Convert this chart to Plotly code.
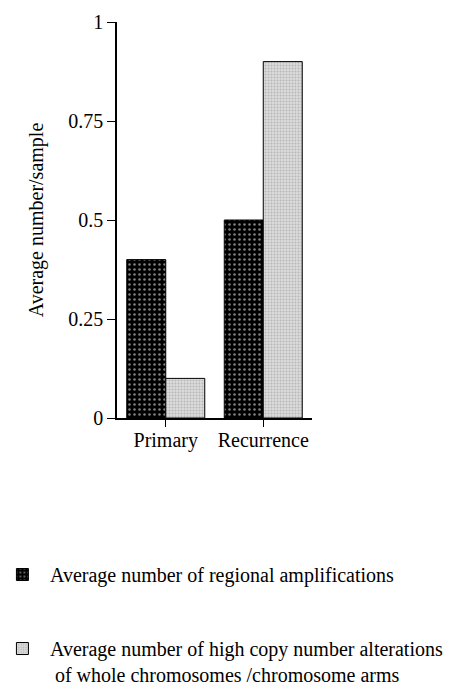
import plotly.graph_objects as go

categories = ["Primary", "Recurrence"]
regional_amp = [0.40, 0.50]
whole_chrom = [0.10, 0.90]
series_names = [
    "Average number of regional amplifications",
    "Average number of high copy number alterations<br> of whole chromosomes /chromosome arms",
]
y_ticks = [0, 0.25, 0.5, 0.75, 1]
y_tick_labels = ["0", "0.25", "0.5", "0.75", "1"]

FONT = "Liberation Serif"
FS = 20

fig = go.Figure()
fig.add_trace(go.Bar(
    x=categories, y=regional_amp, name=series_names[0], legendgroup="a",
    marker=dict(color="black", line=dict(color="black", width=1),
                pattern=dict(shape=".", bgcolor="black", fgcolor="white",
                             size=5, solidity=0.2, fillmode="overlay")),
))
fig.add_trace(go.Bar(
    x=categories, y=whole_chrom, name=series_names[1], legendgroup="b",
    marker=dict(color="#cccccc", line=dict(color="black", width=1),
                pattern=dict(shape=".", bgcolor="#dcdcdc", fgcolor="#909090",
                             size=3, solidity=0.35, fillmode="overlay")),
))

fig.update_layout(
    width=453, height=686,
    margin=dict(l=109, r=149, t=14, b=276, autoexpand=False),
    paper_bgcolor="white", plot_bgcolor="white",
    font=dict(family=FONT, size=FS, color="black"),
    barmode="group", bargap=0.2, bargroupgap=0,
    showlegend=True,
    legend=dict(x=-0.626, xanchor="left", y=-0.346, yanchor="top",
                traceorder="grouped", tracegroupgap=45, valign="top",
                font=dict(family=FONT, size=FS, color="black"),
                itemwidth=45, bgcolor="rgba(0,0,0,0)"),
)
fig.update_xaxes(range=[-0.5, 1.5], showline=True, linecolor="black", linewidth=1.5,
                 ticks="outside", ticklen=7, tickcolor="black", showgrid=False,
                 ticklabelstandoff=-4,
                 automargin=False, tickfont=dict(family=FONT, size=FS))
fig.update_yaxes(range=[0, 1], tickvals=y_ticks, ticktext=y_tick_labels,
                 showline=True, linecolor="black", linewidth=1.5,
                 ticks="outside", ticklen=8, tickcolor="black", showgrid=False,
                 zeroline=False, automargin=False,
                 title=dict(text="Average number/sample", font=dict(family=FONT, size=FS), standoff=19),
                 tickfont=dict(family=FONT, size=FS))

fig.write_html("out.html")
